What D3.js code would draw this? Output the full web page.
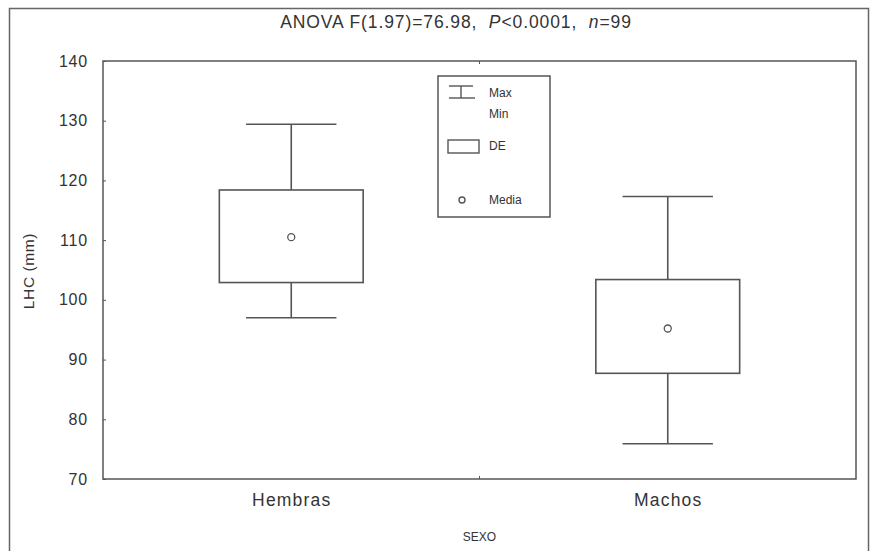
<!DOCTYPE html>
<html><head><meta charset="utf-8">
<script src="https://cdn.jsdelivr.net/npm/d3@7"></script>
<style>body{margin:0;background:#fff}svg{display:block}text{font-family:"Liberation Sans",Arial,sans-serif;white-space:pre}</style>
</head><body><svg id="c" width="873" height="551"></svg>
<script>
const categories = ["Hembras", "Machos"];
const maxVals = [129.4, 117.3];
const sdHigh = [118.4, 103.4];
const means = [110.5, 95.2];
const sdLow = [102.9, 87.7];
const minVals = [97.0, 75.9];
const yTicks = [70, 80, 90, 100, 110, 120, 130, 140];

const svg = d3.select("#c");
const W = 873, H = 551;
const m = {l: 103, r: 17, t: 61, b: 72};
const iw = W - m.l - m.r, ih = H - m.t - m.b;
const col = "#555", tcol = "#333";
const ff = '"Liberation Sans",Arial,sans-serif';

// outer frame
svg.append("rect").attr("x", 9.5).attr("y", 8.5).attr("width", 859).attr("height", 560)
  .attr("fill", "none").attr("stroke", "#666").attr("stroke-width", 1.5);

const x = d3.scalePoint().domain(categories).range([0, iw]).padding(0.5);
const y = d3.scaleLinear().domain([70, 140]).range([ih, 0]);
const step = x.step();

const g = svg.append("g").attr("transform", `translate(${m.l},${m.t})`);

// plot frame
g.append("rect").attr("width", iw).attr("height", ih).attr("fill", "none")
  .attr("stroke", col).attr("stroke-width", 1.5);

// y axis
const ya = g.append("g").call(d3.axisLeft(y).tickValues(yTicks).tickSize(-3).tickPadding(15));
ya.select(".domain").remove();
ya.selectAll("line").attr("stroke", col);
ya.selectAll("text").attr("font-size", 16).attr("letter-spacing", 0.8).attr("fill", tcol).style("font-family", ff);

// x axis
const xa = g.append("g").attr("transform", `translate(0,${ih})`)
  .call(d3.axisBottom(x).tickSize(0));
xa.select(".domain").remove();
xa.selectAll("text").attr("y", 27).attr("dy", 0).attr("font-size", 17.5).attr("letter-spacing", 1.2)
  .attr("fill", tcol).style("font-family", ff);
// midpoint tick marks
const mid = (x(categories[0]) + x(categories[1])) / 2;
g.append("line").attr("x1", mid).attr("x2", mid).attr("y1", ih).attr("y2", ih - 3).attr("stroke", col);
g.append("line").attr("x1", mid).attr("x2", mid).attr("y1", 0).attr("y2", 3).attr("stroke", col);

// boxes
const boxW = step * 0.382, capW = step * 0.24;
categories.forEach((c, i) => {
  const cx = x(c);
  const gg = g.append("g").attr("stroke", col).attr("stroke-width", 1.6).attr("fill", "none");
  gg.append("line").attr("x1", cx).attr("x2", cx).attr("y1", y(maxVals[i])).attr("y2", y(sdHigh[i]));
  gg.append("line").attr("x1", cx).attr("x2", cx).attr("y1", y(sdLow[i])).attr("y2", y(minVals[i]));
  gg.append("line").attr("x1", cx - capW / 2).attr("x2", cx + capW / 2).attr("y1", y(maxVals[i])).attr("y2", y(maxVals[i]));
  gg.append("line").attr("x1", cx - capW / 2).attr("x2", cx + capW / 2).attr("y1", y(minVals[i])).attr("y2", y(minVals[i]));
  gg.append("rect").attr("x", cx - boxW / 2).attr("width", boxW)
    .attr("y", y(sdHigh[i])).attr("height", y(sdLow[i]) - y(sdHigh[i]));
  gg.append("circle").attr("cx", cx).attr("cy", y(means[i])).attr("r", 3.5).attr("stroke-width", 1.3);
});

// title
svg.append("text").attr("x", 456).attr("y", 28).attr("text-anchor", "middle")
  .attr("font-size", 17.5).attr("letter-spacing", 0.9).attr("fill", tcol)
  .call(t => {
    t.append("tspan").text("ANOVA F(1.97)=76.98,  ");
    t.append("tspan").attr("font-style", "italic").text("P");
    t.append("tspan").text("<0.0001,  ");
    t.append("tspan").attr("font-style", "italic").text("n");
    t.append("tspan").text("=99");
  });

// axis titles
svg.append("text").attr("transform", "translate(34,271) rotate(-90)").attr("text-anchor", "middle")
  .attr("font-size", 15.5).attr("letter-spacing", 0.6).attr("fill", tcol).text("LHC (mm)");
svg.append("text").attr("x", m.l + mid).attr("y", 541).attr("text-anchor", "middle")
  .attr("font-size", 12).attr("fill", tcol).text("SEXO");

// legend
const L = svg.append("g").attr("transform", "translate(438,76)");
L.append("rect").attr("width", 112).attr("height", 141).attr("fill", "#fff").attr("stroke", col).attr("stroke-width", 1.5);
const ls = L.append("g").attr("stroke", col).attr("stroke-width", 1.4).attr("fill", "none");
ls.append("line").attr("x1", 11).attr("x2", 35).attr("y1", 10).attr("y2", 10);
ls.append("line").attr("x1", 23).attr("x2", 23).attr("y1", 10).attr("y2", 22);
ls.append("line").attr("x1", 11).attr("x2", 37).attr("y1", 22).attr("y2", 22);
ls.append("rect").attr("x", 10).attr("y", 64).attr("width", 31).attr("height", 13);
ls.append("circle").attr("cx", 24).attr("cy", 124).attr("r", 3);
const lt = [["Max", 17], ["Min", 38], ["DE", 70], ["Media", 124]];
L.selectAll("text.l").data(lt).join("text").attr("x", 51).attr("y", d => d[1])
  .attr("dy", "0.35em").attr("font-size", 12).attr("fill", tcol).text(d => d[0]);
</script></body></html>
